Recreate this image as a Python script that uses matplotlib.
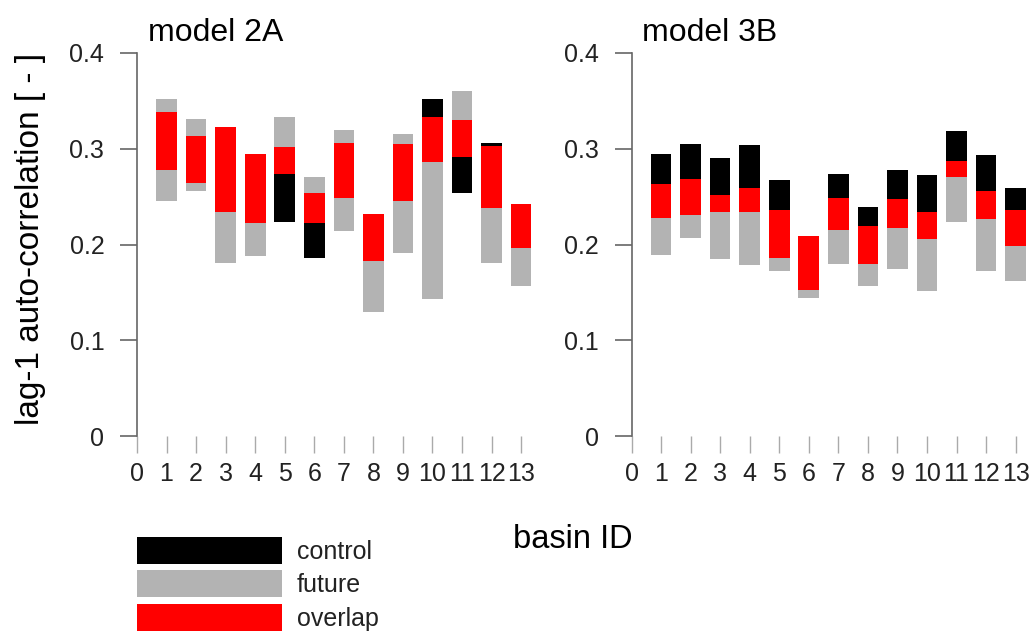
import numpy as np
import matplotlib.pyplot as plt
from matplotlib.patches import Patch

# lag-1 auto-correlation ranges per basin (low, high)
basins = np.arange(1, 14)

ctrl_lo_2A = [0.278, 0.264, 0.234, 0.222, 0.223, 0.186, 0.249, 0.183, 0.245, 0.286, 0.254, 0.238, 0.196]
ctrl_hi_2A = [0.338, 0.313, 0.323, 0.294, 0.302, 0.254, 0.306, 0.232, 0.305, 0.352, 0.330, 0.306, 0.242]
fut_lo_2A = [0.245, 0.256, 0.181, 0.188, 0.274, 0.222, 0.214, 0.130, 0.191, 0.143, 0.291, 0.181, 0.157]
fut_hi_2A = [0.352, 0.331, 0.323, 0.294, 0.333, 0.271, 0.320, 0.232, 0.315, 0.333, 0.360, 0.303, 0.242]

ctrl_lo_3B = [0.228, 0.231, 0.234, 0.234, 0.186, 0.153, 0.215, 0.180, 0.217, 0.206, 0.271, 0.227, 0.198]
ctrl_hi_3B = [0.295, 0.305, 0.290, 0.304, 0.267, 0.209, 0.274, 0.239, 0.278, 0.273, 0.319, 0.293, 0.259]
fut_lo_3B = [0.189, 0.207, 0.185, 0.179, 0.172, 0.144, 0.180, 0.157, 0.174, 0.151, 0.223, 0.172, 0.162]
fut_hi_3B = [0.263, 0.268, 0.252, 0.259, 0.236, 0.209, 0.249, 0.219, 0.248, 0.234, 0.287, 0.256, 0.236]

titles = ["model 2A", "model 3B"]
panels = [(ctrl_lo_2A, ctrl_hi_2A, fut_lo_2A, fut_hi_2A),
          (ctrl_lo_3B, ctrl_hi_3B, fut_lo_3B, fut_hi_3B)]

c_ctrl = "black"
c_fut = "#b3b3b3"
c_ovl = "#ff0000"
txt = "#222222"
axc = "#666666"

plt.rcParams["font.family"] = ["Liberation Sans", "DejaVu Sans"]

fig = plt.figure(figsize=(10.3, 6.35), dpi=100)
W, H = 1030, 635
ax_wpx = 13.5 * 29.55
ax_w = ax_wpx / W
ax_b = (H - 436) / H
ax_h = (436 - 53) / H
axes = [fig.add_axes([137 / W, ax_b, ax_w, ax_h]),
        fig.add_axes([631.5 / W, ax_b, ax_w, ax_h])]

bw = 0.7
for ax, (clo, chi, flo, fhi), title in zip(axes, panels, titles):
    clo, chi, flo, fhi = map(np.array, (clo, chi, flo, fhi))
    olo = np.maximum(clo, flo)
    ohi = np.minimum(chi, fhi)
    ax.bar(basins, fhi - flo, bottom=flo, width=bw, color=c_fut, linewidth=0)
    ax.bar(basins, chi - clo, bottom=clo, width=bw, color=c_ctrl, linewidth=0)
    ax.bar(basins, ohi - olo, bottom=olo, width=bw, color=c_ovl, linewidth=0)

    ax.set_xlim(0, 13.5)
    ax.set_ylim(0, 0.4)
    ax.set_yticks([0, 0.1, 0.2, 0.3, 0.4])
    ax.set_yticklabels(["0", "0.1", "0.2", "0.3", "0.4"])
    ax.set_xticks(np.arange(0, 14))
    for s in ["top", "right", "bottom"]:
        ax.spines[s].set_visible(False)
    ax.spines["left"].set_color(axc)
    ax.spines["left"].set_linewidth(1.2)
    ax.tick_params(axis="y", direction="out", length=12, width=1.2, color=axc,
                   labelsize=18, labelcolor=txt, pad=11.5)
    ax.tick_params(axis="x", direction="out", length=12, width=1.0, color="#aaaaaa",
                   labelsize=18, labelcolor=txt, pad=7)
    ax.text(11 / ax_wpx, (436 - 41) / 383, title, transform=ax.transAxes,
            fontsize=23, color="black", ha="left", va="baseline")

axes[0].set_ylabel("lag-1 auto-correlation [ - ]", fontsize=24, color="black")
axes[0].yaxis.set_label_coords(46 / W, (H - 238.5) / H, transform=fig.transFigure)
fig.text(573 / W, (H - 548) / H, "basin ID", fontsize=23.5, ha="center", va="baseline")

handles = [Patch(facecolor=c_ctrl), Patch(facecolor=c_fut), Patch(facecolor=c_ovl)]
fig.legend(handles, ["control", "future", "overlap"], loc="upper left",
           bbox_to_anchor=(137 / W, (H - 537) / H), frameon=False, fontsize=18,
           handlelength=5.8, handleheight=1.26, labelspacing=0.27, handletextpad=0.6,
           borderpad=0, borderaxespad=0, labelcolor=txt)

fig.savefig("out.png", dpi=100)
